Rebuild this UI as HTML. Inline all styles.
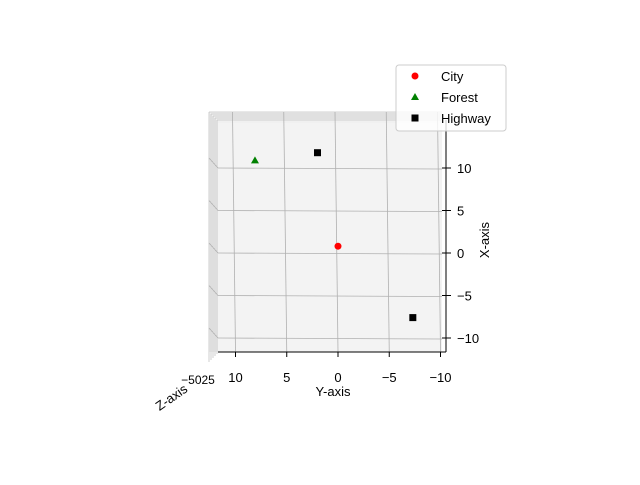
<!DOCTYPE html>
<html><head><meta charset="utf-8"><style>body{margin:0;background:#fff}svg{font-family:"Liberation Sans","DejaVu Sans",sans-serif}</style></head>
<body>
<svg width="640" height="480">
<rect x="209" y="112" width="233" height="240" fill="#f0f0f0"/>
<rect x="218" y="123" width="224" height="229" fill="#f3f3f3"/>
<g stroke="#c4c4c4" fill="none" stroke-width="0.8">
<path d="M209 112 L442 112 M211 114 L442 114 M213 116 L442 116 M215 118 L442 118 M217 120 L442 120 M209 112 L209 362 M211 114 L211 360 M213 116 L213 358 M215 118 L215 356 M217 120 L217 354"/>
</g>
<g id="grid" stroke="#b0b0b0" stroke-width="0.8"></g>
<g id="axes"></g>
<g id="marks"></g>
<text x="333" y="396" font-size="13" text-anchor="middle">Y-axis</text>
<text x="489" y="240" font-size="13" text-anchor="middle" transform="rotate(-90 489 240)">X-axis</text>
<text x="174" y="401" font-size="13" text-anchor="middle" transform="rotate(-35 174 401)">Z-axis</text>
<text x="198" y="384" font-size="12" text-anchor="middle">−5025</text>
<g>
<rect x="396" y="65" width="110" height="66" rx="3" fill="#fff" fill-opacity="0.8" stroke="#ccc"/>
<circle cx="415" cy="76" r="3.5" fill="red"/>
<text x="441" y="81" font-size="13">City</text>
<path d="M415 93 L419 100 L411 100Z" fill="green"/>
<text x="441" y="102" font-size="13">Forest</text>
<rect x="411.5" y="114.5" width="7" height="7" fill="#000"/>
<text x="441" y="123" font-size="13">Highway</text>
</g>
</svg>
<script>
const yTicks=[10,5,0,-5,-10];
const xTicks=[10,5,0,-5,-10];
const cityX=[0.8], cityY=[0];
const forestX=[10.9], forestY=[8.1];
const highwayX=[11.8,-7.6], highwayY=[2.0,-7.3];
const px=v=>338-v*10.25;
const py=v=>253-v*8.5;
const NS="http://www.w3.org/2000/svg";
function mk(t,a,p){const e=document.createElementNS(NS,t);for(const k in a)e.setAttribute(k,a[k]);p.appendChild(e);return e;}
const g=document.getElementById('grid'),ax=document.getElementById('axes'),m=document.getElementById('marks');
yTicks.forEach(v=>{
 const l=mk('line',{x1:px(v)-3,y1:112,x2:px(v),y2:352},g);
 
 
 const t=mk('line',{x1:px(v),y1:352,x2:px(v),y2:357,stroke:'#000'},ax);
 
 
 const s=mk('text',{x:px(v),y:382,'font-size':13,'text-anchor':'middle'},ax);
 s.textContent=String(v).replace('-','−');
 
 
});
xTicks.forEach(v=>{
 const l=mk('line',{x1:209,y1:py(v)-10,x2:218,y2:py(v),stroke:'#b0b0b0','stroke-width':0.8},g);
 
 
 const l2=mk('line',{x1:218,y1:py(v),x2:442,y2:py(v)+1},g);
 
 
 const t=mk('line',{x1:442,y1:py(v),x2:451,y2:py(v),stroke:'#000'},ax);
 
 
 const s=mk('text',{x:457,y:py(v)+5,'font-size':13},ax);
 s.textContent=String(v).replace('-','−');
 
 
});
const a1=mk('path',{d:'M218 352 L446 352 M446 120 L446 352',stroke:'#000',fill:'none'},ax);


cityX.forEach((v,i)=>{const c=mk('circle',{cx:px(cityY[i]),cy:py(v),r:3.5,fill:'red'},m);
 
 });
forestX.forEach((v,i)=>{const x=px(forestY[i]),y=py(v);const c=mk('path',{d:`M${x} ${y-4} L${x+4} ${y+3} L${x-4} ${y+3}Z`,fill:'green'},m);
 
 });
highwayX.forEach((v,i)=>{const c=mk('rect',{x:px(highwayY[i])-3.5,y:py(v)-3.5,width:7,height:7,fill:'#000'},m);
 
 });
</script>
</body></html>
